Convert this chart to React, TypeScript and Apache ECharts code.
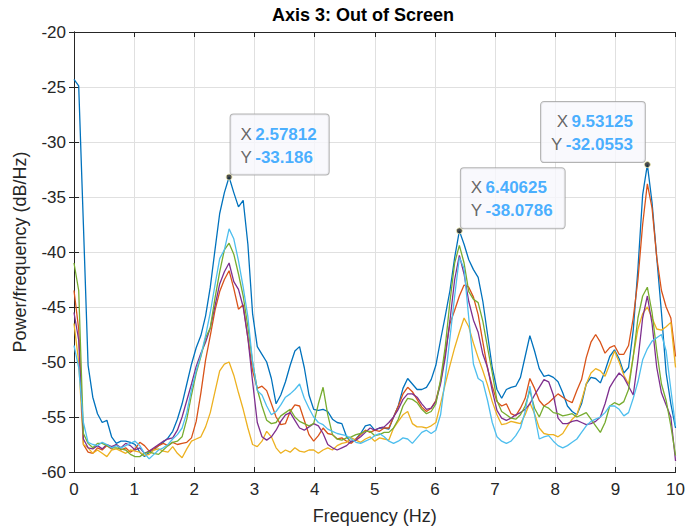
import React, { useEffect, useRef } from "react";
import * as echarts from "echarts";

const FREQ_STEP = 0.078125;
const X_MIN = 0;
const X_MAX = 10;
const Y_MIN = -60;
const Y_MAX = -20;
const TITLE = "Axis 3: Out of Screen";
const X_LABEL = "Frequency (Hz)";
const Y_LABEL = "Power/frequency (dB/Hz)";

const seriesNames = ["Trial 1", "Trial 2", "Trial 3", "Trial 4", "Trial 5", "Trial 6"];
const seriesColors = ["#0072BD", "#D95319", "#EDB120", "#7E2F8E", "#77AC30", "#4DBEEE"];

const blue = [
  -24.3, -24.9, -37.5, -50.3, -53.2, -54.7, -55.5, -55.3, -56.8, -57.4,
  -57.2, -57.2, -57.3, -57.5, -58.2, -58.6, -58.2, -58.0, -57.6, -57.3,
  -56.9, -56.3, -55.2, -53.8, -52.0, -50.2, -48.7, -47.6, -45.8, -43.2,
  -39.8, -36.5, -34.6, -33.186, -34.6, -35.9, -35.3, -39.3, -45.6, -48.6,
  -49.3, -50.0, -51.5, -53.8, -53.0, -51.8, -50.3, -49.0, -48.6, -50.5,
  -53.0, -54.3, -54.4, -54.3, -54.5, -55.2, -55.5, -55.6, -56.8, -57.3,
  -57.0, -56.5, -55.8, -55.7, -56.2, -56.0, -56.0, -56.1, -55.0, -54.0,
  -52.4, -51.5, -52.0, -52.5, -52.5, -52.3, -51.6, -50.3, -48.0, -45.8,
  -43.5, -40.5, -38.0786, -39.3, -40.7, -41.6, -42.3, -44.5, -47.5, -50.5,
  -52.5, -53.3, -52.5, -52.3, -52.2, -51.4, -49.5, -47.6, -49.0, -50.6,
  -51.3, -51.2, -51.4, -51.8, -52.8, -54.0, -54.5, -54.8, -53.8, -52.0,
  -51.4, -51.5, -51.9, -50.8, -49.5, -48.9, -49.7, -51.0, -50.5, -47.1,
  -41.5, -34.8, -32.0553, -35.5, -40.5, -45.5, -51.0, -53.8, -56.0,
];

const orange = [
  -43.5, -47.0, -57.5, -58.2, -58.3, -57.8, -58.0, -57.6, -57.9, -57.5,
  -58.0, -57.8, -58.2, -57.9, -57.3, -57.6, -58.1, -57.9, -57.6, -57.4,
  -57.6, -57.3, -57.5, -57.4, -57.3, -56.9, -55.4, -52.8, -49.8, -47.6,
  -45.3, -43.6, -42.5, -41.7, -43.3, -45.2, -44.8, -47.8, -50.8, -52.4,
  -52.2, -52.6, -53.8, -55.0, -55.7, -55.6, -54.5, -53.9, -54.0, -55.3,
  -56.6, -57.2, -56.7, -56.0, -56.5, -56.6, -57.0, -56.9, -57.2, -57.4,
  -57.0, -56.6, -56.2, -56.4, -56.2, -56.3, -56.0, -56.0, -55.0, -54.0,
  -52.9, -52.3, -52.7, -53.4, -54.1, -54.5, -54.2, -53.5, -51.8, -49.2,
  -46.5, -45.3, -44.0, -43.0, -43.2, -44.1, -45.7, -48.2, -50.6, -52.2,
  -53.6, -54.0, -53.8, -54.7, -54.9, -54.2, -53.3, -51.5, -52.4, -53.5,
  -54.0, -53.7, -53.3, -52.9, -53.2, -53.5, -53.7, -52.6, -51.6, -49.6,
  -48.2, -47.5, -48.2, -49.2, -48.7, -48.5, -49.3, -49.3, -48.5, -46.0,
  -42.5, -37.5, -33.8, -36.0, -40.5, -43.5, -45.0, -46.0, -49.5,
];

const yellow = [
  -46.5, -50.0, -57.5, -57.8, -58.3, -58.0, -58.3, -58.6, -58.0, -57.9,
  -58.1, -58.3, -58.0, -58.1, -58.2, -58.5, -58.4, -58.0, -57.9, -58.1,
  -58.2, -57.7, -58.3, -58.7, -57.9, -57.2, -57.0, -56.8, -55.9, -54.6,
  -52.7, -50.8, -50.2, -50.0, -51.2, -52.8, -54.3, -56.0, -57.5, -57.7,
  -57.2, -56.3, -56.8, -57.8, -58.3, -58.0, -58.2, -57.8, -58.1, -58.2,
  -58.0, -58.0, -58.3, -58.0, -57.8, -58.0, -57.6, -57.4, -57.3, -56.9,
  -57.1, -57.3, -57.0, -56.8, -57.2, -56.9, -57.0, -57.1, -56.0, -55.4,
  -54.8, -54.5, -55.6, -55.9, -55.9, -56.0, -55.8, -55.5, -53.8, -52.0,
  -50.3, -48.7, -47.3, -46.0, -46.8, -48.3, -49.6, -50.8, -52.1, -53.6,
  -54.8, -55.7, -55.6, -55.4, -55.5, -55.6, -54.8, -53.7, -54.7, -56.0,
  -56.5, -56.6, -56.6, -56.8, -56.5, -55.8, -55.2, -54.8, -53.5, -52.0,
  -51.0, -50.6, -50.8, -51.3, -50.2, -49.0, -50.0, -51.2, -52.0, -49.5,
  -47.0, -45.6, -45.0, -46.0, -47.0, -47.1, -46.8, -46.4, -50.5,
];

const purple = [
  -45.5, -48.0, -57.0, -57.8, -57.9, -57.6, -57.9, -57.5, -57.7, -57.5,
  -57.8, -57.4, -57.6, -58.0, -57.8, -58.3, -58.1, -57.8, -57.5, -57.2,
  -57.0, -56.9, -56.2, -55.0, -53.5, -52.0, -50.4, -49.2, -48.2, -46.9,
  -44.9, -42.9, -41.8, -41.0, -42.7, -43.4, -45.0, -47.8, -51.8, -55.5,
  -56.8, -57.1, -56.8, -56.2, -55.4, -54.8, -54.6, -55.3, -56.0, -56.2,
  -55.9, -55.6, -55.8, -56.5, -57.5, -57.8, -58.0, -57.8, -57.6, -57.2,
  -57.1, -56.8, -56.4, -56.0, -56.2, -56.0, -55.9, -55.5, -55.0, -54.3,
  -53.4, -52.9, -52.9, -53.2, -53.8, -54.3, -54.2, -53.6, -52.0, -49.6,
  -46.2, -42.5, -40.3, -42.0, -44.5, -46.2, -47.3, -49.3, -50.5, -52.6,
  -54.4, -55.1, -55.3, -55.1, -54.8, -54.6, -54.3, -53.8, -53.0, -52.3,
  -51.6, -51.8, -53.0, -55.1, -55.6, -55.6, -55.4, -55.3, -55.5, -55.7,
  -55.6, -55.4, -55.0, -53.8, -52.3, -51.6, -51.0, -51.4, -52.2, -53.0,
  -49.8, -46.0, -44.0, -46.5, -50.5, -52.8, -53.9, -55.0, -59.0,
];

const green = [
  -41.0, -43.5, -56.5, -57.4, -57.8, -57.4, -57.4, -57.6, -57.8, -57.8,
  -57.9, -58.0, -58.4, -58.6, -58.6, -58.3, -58.2, -58.3, -58.4, -58.0,
  -57.6, -57.3, -57.2, -56.8, -55.2, -53.0, -51.0, -49.5, -47.8, -46.9,
  -44.2, -41.8, -39.8, -39.2, -40.2, -42.0, -44.0, -46.8, -50.0, -52.5,
  -54.0, -55.3, -55.6, -55.5, -54.9, -54.6, -54.3, -55.0, -55.4, -55.6,
  -55.8, -55.6, -53.8, -52.3, -54.8, -56.6, -57.0, -57.1, -56.9, -56.8,
  -56.6, -56.5, -56.3, -56.3, -56.7, -56.6, -56.4, -56.4, -56.0, -55.2,
  -54.0, -53.3, -53.4, -53.7, -54.3, -54.7, -54.5, -53.8, -51.6, -48.6,
  -44.5, -41.0, -39.4, -41.0, -43.6, -44.3, -44.6, -46.3, -48.7, -51.0,
  -53.5, -54.5, -54.8, -55.1, -55.2, -54.8, -54.0, -52.6, -54.2, -55.0,
  -54.0, -54.2, -54.6, -54.7, -54.9, -54.8, -54.7, -55.0, -54.8, -54.6,
  -55.2, -55.8, -56.4, -55.5, -54.0, -53.7, -53.9, -53.6, -52.5, -49.5,
  -46.0, -44.0, -43.2, -45.5, -49.0, -52.0, -53.5, -55.8, -58.5,
];

const cyan = [
  -48.5, -50.5, -55.5, -57.3, -57.5, -57.6, -57.3, -57.5, -57.8, -57.6,
  -57.8, -57.6, -57.4, -57.2, -57.6, -58.3, -58.8, -58.4, -58.0, -57.8,
  -57.5, -57.0, -56.6, -56.0, -54.6, -52.5, -50.8, -49.4, -47.6, -45.5,
  -43.0, -40.6, -39.8, -37.9, -38.8, -40.8, -43.2, -45.9, -50.0, -52.6,
  -53.0, -54.0, -54.8, -54.5, -53.9, -53.2, -52.9, -52.5, -52.0, -53.3,
  -54.2, -55.0, -55.5, -55.7, -56.1, -56.3, -56.5, -56.6, -56.7, -57.0,
  -57.3, -57.4, -57.2, -57.0, -56.7, -56.5, -56.8, -57.2, -57.4, -57.2,
  -56.9, -57.0, -57.4, -56.9, -56.4, -56.2, -56.5, -56.2, -54.8, -51.5,
  -47.8, -44.0, -40.5, -41.5, -46.0, -50.2, -51.5, -51.8, -53.5, -55.5,
  -56.8, -57.2, -57.4, -57.2, -56.7, -56.0, -54.5, -52.2, -54.8, -57.0,
  -56.8, -56.7, -57.2, -57.6, -57.8, -57.6, -57.3, -57.0, -56.4, -55.8,
  -55.4, -55.2, -55.0, -54.6, -54.0, -54.0, -54.3, -54.9, -54.6, -53.3,
  -51.8, -49.8, -48.8, -48.1, -47.8, -47.5, -49.0, -52.5, -55.8,
];

const seriesValues = [blue, orange, yellow, purple, green, cyan];

// Data tips (MATLAB style)
const tipX = [2.57812, 6.40625, 9.53125];
const tipY = [-33.186, -38.0786, -32.0553];
const tipSide = ["right", "right", "left"];

const FONT = "'Liberation Sans', Arial, Helvetica, sans-serif";
const AXIS_COLOR = "#262626";

export default function App() {
  const ref = useRef<HTMLDivElement>(null);

  useEffect(() => {
    if (!ref.current) return;
    const chart = echarts.init(ref.current, undefined, { renderer: "svg" });

    const lineSeries = seriesValues.map((vals, si) => ({
      name: seriesNames[si],
      type: "line",
      data: vals.map((v, i) => [i * FREQ_STEP, v]),
      showSymbol: false,
      symbol: "none",
      lineStyle: { color: seriesColors[si], width: 1.3 },
      itemStyle: { color: seriesColors[si] },
      z: 2 + si,
    }));

    const tipData = tipX.map((x, i) => ({
      value: [x, tipY[i]],
      label: {
        show: true,
        position: tipSide[i] === "right" ? [5, 1] : [1, 1],
        align: tipSide[i] === "right" ? "left" : "right",
        verticalAlign: "bottom",
        formatter: `{k|X} {v|${tipX[i]}}\n{k|Y} {v|${tipY[i]}}`,
        backgroundColor: "#f8f8fd",
        borderColor: "#a0a0a0",
        borderWidth: 1,
        borderRadius: 3,
        padding: [8, 12, 6, 10],
        lineHeight: 23,
        rich: {
          k: { color: "#404040", fontSize: 17, fontFamily: FONT, lineHeight: 23 },
          v: { color: "#1a9bff", fontSize: 17, fontWeight: "bold", fontFamily: FONT, lineHeight: 23 },
        },
      },
    }));

    const valueAxisCommon = {
      type: "value" as const,
      axisLine: { show: true, lineStyle: { color: AXIS_COLOR, width: 1 } },
      axisTick: { show: true, inside: true, length: 5, lineStyle: { color: AXIS_COLOR } },
    };

    chart.setOption({
      animation: false,
      backgroundColor: "#ffffff",
      grid: { left: 74, right: 10, top: 32, bottom: 59, containLabel: false },
      graphic: [
        {
          type: "text",
          x: 363,
          y: 15,
          style: {
            text: TITLE,
            fill: "#000000",
            font: `bold 18px ${FONT}`,
            align: "center",
            verticalAlign: "middle",
          },
        },
      ],
      xAxis: [
        {
          ...valueAxisCommon,
          min: X_MIN,
          max: X_MAX,
          interval: 1,
          position: "bottom",
          name: X_LABEL,
          nameLocation: "middle",
          nameGap: 35,
          nameTextStyle: { color: AXIS_COLOR, fontSize: 18, fontFamily: FONT },
          axisLabel: { color: AXIS_COLOR, fontSize: 17, fontFamily: FONT, margin: 9 },
          splitLine: { show: true, lineStyle: { color: "#e0e0e0", width: 1 } },
        },
        {
          ...valueAxisCommon,
          min: X_MIN,
          max: X_MAX,
          interval: 1,
          position: "top",
          axisLabel: { show: false },
          splitLine: { show: false },
        },
      ],
      yAxis: [
        {
          ...valueAxisCommon,
          min: Y_MIN,
          max: Y_MAX,
          interval: 5,
          position: "left",
          name: Y_LABEL,
          nameLocation: "middle",
          nameGap: 45,
          nameRotate: 90,
          nameTextStyle: { color: AXIS_COLOR, fontSize: 18, fontFamily: FONT },
          axisLabel: { color: AXIS_COLOR, fontSize: 17, fontFamily: FONT, margin: 8 },
          splitLine: { show: true, lineStyle: { color: "#e0e0e0", width: 1 } },
        },
        {
          ...valueAxisCommon,
          min: Y_MIN,
          max: Y_MAX,
          interval: 5,
          position: "right",
          axisLabel: { show: false },
          splitLine: { show: false },
        },
      ],
      series: [
        ...lineSeries,
        {
          name: "Data tips",
          type: "scatter",
          data: tipData,
          symbol: "circle",
          symbolSize: 6,
          itemStyle: { color: "#222222", borderColor: "#f3f0b0", borderWidth: 1 },
          z: 20,
        },
      ],
    });

    return () => chart.dispose();
  }, []);

  return (
    <div
      ref={ref}
      style={{ position: "fixed", left: 0, top: 0, width: 688, height: 531, background: "#fff" }}
    />
  );
}
